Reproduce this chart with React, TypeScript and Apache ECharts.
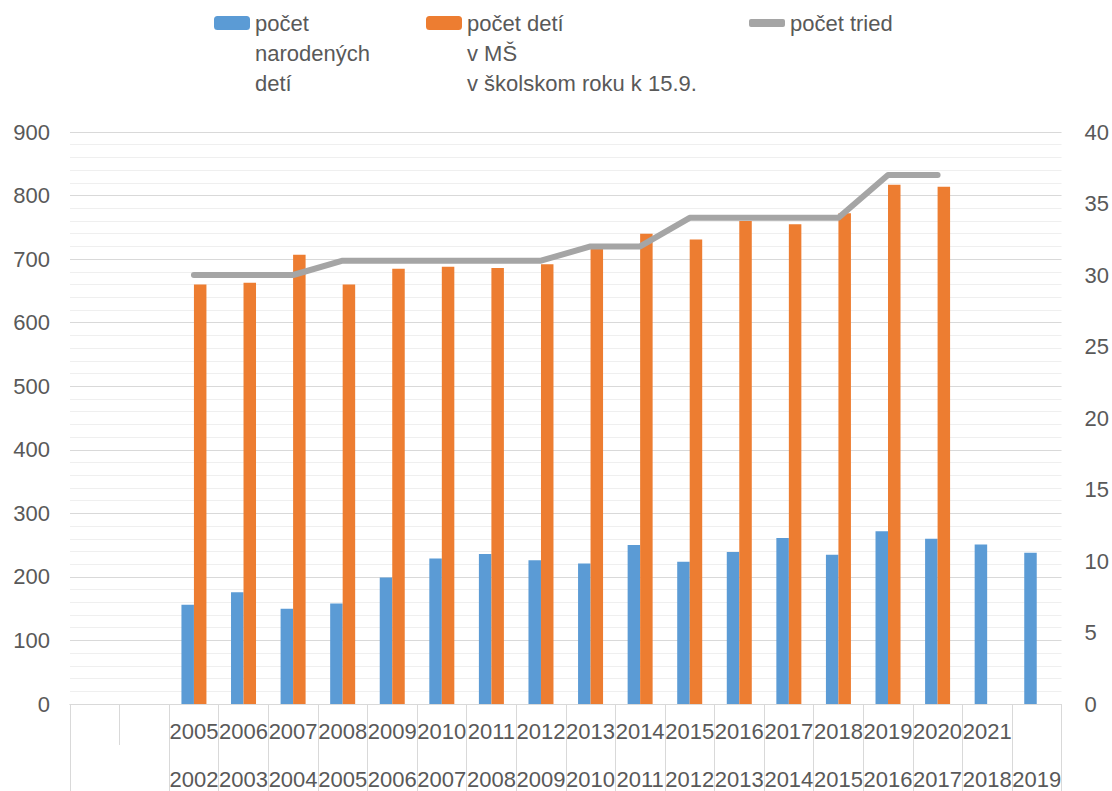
import React, { useEffect, useRef } from "react";
import * as echarts from "echarts";

const labelsTop = ["", "", "2005", "2006", "2007", "2008", "2009", "2010", "2011", "2012", "2013", "2014", "2015", "2016", "2017", "2018", "2019", "2020", "2021", ""];
const labelsBottom = ["", "", "2002", "2003", "2004", "2005", "2006", "2007", "2008", "2009", "2010", "2011", "2012", "2013", "2014", "2015", "2016", "2017", "2018", "2019"];
const born = [null, null, 156, 176, 150, 158, 199, 229, 236, 226, 221, 250, 224, 239, 261, 235, 272, 260, 251, 238];
const kindergarten = [null, null, 660, 663, 707, 660, 685, 688, 686, 692, 717, 740, 731, 760, 755, 772, 817, 814, null, null];
const classes = [null, null, 30, 30, 30, 31, 31, 31, 31, 31, 32, 32, 34, 34, 34, 34, 37, 37, null, null];

const nameBorn = "počet\nnarodených\ndetí";
const nameKg = "počet detí\nv MŠ\nv školskom roku k 15.9.";
const nameClasses = "počet tried";

const FONT = "'Liberation Sans', Arial, sans-serif";
const TXT = "#595959";

export default function App() {
  const ref = useRef<HTMLDivElement>(null);
  useEffect(() => {
    if (!ref.current) return;
    const chart = echarts.init(ref.current, null, { renderer: "svg" });
    const keys = labelsTop.map((t, i) => `${i}:${t}/${labelsBottom[i]}`);
    const legendText = { color: TXT, fontSize: 22, fontFamily: FONT, lineHeight: 30 };
    // prepend blank lines so that the first line of a 3-line name sits beside the icon
    const topAligned = (name: string) => "\n\n" + name;
    chart.setOption({
      animation: false,
      textStyle: { fontFamily: FONT },
      legend: [
        {
          data: [nameBorn], left: 214, top: -52, padding: 0, itemWidth: 36, itemHeight: 14,
          selectedMode: false,
          formatter: topAligned,
          textStyle: { ...legendText },
        },
        {
          data: [nameKg], left: 426, top: -52, padding: 0, itemWidth: 36, itemHeight: 14,
          selectedMode: false,
          formatter: topAligned,
          textStyle: { ...legendText },
        },
        {
          data: [{ name: nameClasses, icon: "roundRect" }], left: 749, top: 8, padding: 0, itemWidth: 36, itemHeight: 8,
          selectedMode: false,
          textStyle: { ...legendText },
        },
      ],
      grid: { left: 70, right: 50, top: 132, bottom: 87, containLabel: false },
      xAxis: [
        {
          type: "category",
          data: keys,
          position: "bottom",
          boundaryGap: true,
          axisLine: { show: true, lineStyle: { color: "#D9D9D9", width: 1 } },
          axisTick: {
            show: true,
            length: 41,
            interval: 0,
            lineStyle: { color: "#D9D9D9", width: 1 },
          },
          axisLabel: {
            interval: 0,
            margin: 16,
            color: TXT,
            fontSize: 22,
            fontFamily: FONT,
            formatter: (_v: string, i: number) => labelsTop[i],
          },
          splitLine: { show: false },
        },
        {
          type: "category",
          data: keys,
          position: "bottom",
          boundaryGap: true,
          axisLine: { show: true, lineStyle: { color: "#D9D9D9", width: 1 } },
          axisTick: {
            show: true,
            length: 87,
            lineStyle: { color: "#D9D9D9", width: 1 },
            interval: (index: number) => index !== 1,
          },
          axisLabel: {
            interval: 0,
            margin: 64,
            color: TXT,
            fontSize: 22,
            fontFamily: FONT,
            formatter: (_v: string, i: number) => labelsBottom[i],
          },
          splitLine: { show: false },
        },
      ],
      yAxis: [
        {
          type: "value",
          min: 0,
          max: 900,
          interval: 100,
          axisLine: { show: false },
          axisTick: { show: false },
          axisLabel: { color: TXT, fontSize: 22, fontFamily: FONT, margin: 20 },
          splitLine: { show: true, lineStyle: { color: "#D9D9D9", width: 1 } },
          minorTick: { show: false, splitNumber: 5 },
          minorSplitLine: { show: true, lineStyle: { color: "#EFEFEF", width: 1 } },
        },
        {
          type: "value",
          min: 0,
          max: 40,
          interval: 5,
          position: "right",
          axisLine: { show: false },
          axisTick: { show: false },
          axisLabel: { color: TXT, fontSize: 22, fontFamily: FONT, margin: 23 },
          splitLine: { show: false },
        },
      ],
      series: [
        {
          name: nameBorn,
          type: "bar",
          data: born,
          barWidth: 12.5,
          barGap: "0%",
          itemStyle: { color: "#5B9BD5" },
        },
        {
          name: nameKg,
          type: "bar",
          data: kindergarten,
          barWidth: 12.5,
          barGap: "0%",
          itemStyle: { color: "#ED7D31" },
        },
        {
          name: nameClasses,
          type: "line",
          yAxisIndex: 1,
          data: classes,
          symbol: "none",
          showSymbol: false,
          connectNulls: false,
          z: 5,
          itemStyle: { color: "#A5A5A5" },
          lineStyle: { color: "#A5A5A5", width: 6, cap: "round", join: "round" },
        },
      ],
    });
    return () => chart.dispose();
  }, []);
  return (
    <div
      ref={ref}
      style={{ position: "absolute", left: 0, top: 0, width: 1112, height: 791 }}
    />
  );
}
